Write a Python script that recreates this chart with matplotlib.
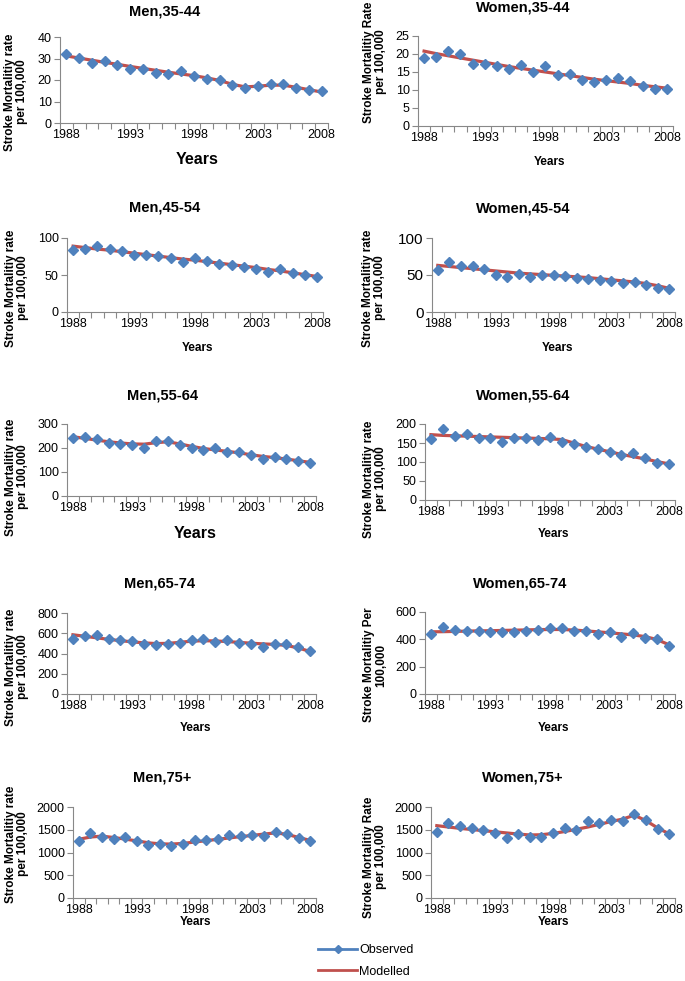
import matplotlib
matplotlib.use('Agg')
import matplotlib.pyplot as plt
from matplotlib.lines import Line2D

plt.rcParams['font.family'] = ['Liberation Sans', 'DejaVu Sans']

years = list(range(1988, 2009))
year_labels = [1988, 1993, 1998, 2003, 2008]

# observed / modelled rates per 100,000
men_35_44_obs = [32.2, 30.4, 27.9, 28.7, 27.0, 25.0, 25.1, 23.3, 22.6, 24.3, 21.7,
                 20.6, 20.2, 17.7, 16.4, 17.4, 18.3, 18.0, 16.4, 15.2, 14.7]
men_35_44_mod = [31.2, 30.2, 29.2, 28.2, 27.3, 26.3, 25.4, 24.5, 23.6, 22.8, 22.0,
                 21.0, 19.8, 18.0, 16.8, 17.1, 17.6, 17.6, 16.6, 15.5, 14.4]

women_35_44_obs = [19.0, 19.1, 20.9, 20.0, 17.2, 17.1, 16.7, 15.9, 16.9, 15.1, 16.7,
                   14.2, 14.4, 12.7, 12.3, 12.7, 13.3, 12.4, 11.1, 10.4, 10.3]
women_35_44_mod = [20.8, 20.1, 19.5, 18.9, 18.3, 17.7, 17.1, 16.5, 16.0, 15.5, 15.0,
                   14.5, 14.0, 13.5, 13.0, 12.6, 12.2, 11.8, 11.3, 10.9, 10.5]

men_45_54_obs = [83.8, 85.6, 89.2, 84.7, 82.4, 77.5, 76.6, 75.7, 73.4, 67.6, 73.0,
                 69.4, 65.3, 63.1, 61.3, 57.7, 53.6, 57.7, 52.7, 50.5, 47.3]
men_45_54_mod = [89.0, 87.0, 85.0, 83.5, 81.5, 79.5, 77.5, 75.5, 73.5, 71.5, 70.0,
                 68.0, 66.0, 64.0, 62.0, 60.0, 57.5, 55.5, 53.0, 50.5, 48.0]

women_45_54_obs = [56.3, 67.1, 61.7, 61.7, 58.1, 49.5, 47.7, 51.8, 46.8, 49.5, 49.5,
                   48.2, 46.4, 45.0, 43.2, 41.4, 39.2, 40.1, 36.9, 32.9, 31.5]
women_45_54_mod = [63.0, 61.5, 60.0, 58.5, 57.0, 55.5, 54.0, 52.5, 51.5, 50.5, 49.5,
                   48.5, 47.5, 46.5, 45.0, 43.5, 42.0, 40.5, 38.5, 35.5, 32.0]

men_55_64_obs = [241, 244, 236, 219, 216, 213, 202, 230, 229, 211, 202,
                 193, 200, 184, 183, 170, 156, 162, 155, 144, 138]
men_55_64_mod = [247, 240, 233, 226, 221, 217, 216, 222, 226, 217, 207,
                 198, 192, 186, 180, 172, 165, 160, 154, 147, 140]

women_55_64_obs = [160, 188, 168, 173, 163, 163, 152, 164, 163, 159, 165,
                   153, 147, 139, 134, 127, 119, 124, 111, 98, 95]
women_55_64_mod = [172, 170, 169, 168, 167, 166, 165, 164, 163, 162, 161,
                   159, 150, 141, 134, 127, 120, 114, 108, 101, 95]

men_65_74_obs = [539, 575, 584, 539, 532, 522, 490, 483, 496, 506, 535,
                 539, 516, 529, 506, 490, 467, 490, 490, 460, 421]
men_65_74_mod = [585, 570, 555, 540, 527, 515, 505, 498, 500, 510, 522,
                 526, 524, 518, 510, 502, 495, 490, 480, 455, 420]

women_65_74_obs = [439, 488, 466, 459, 461, 451, 451, 451, 461, 468, 485,
                   483, 459, 463, 441, 454, 417, 446, 410, 402, 354]
women_65_74_mod = [455, 456, 458, 460, 462, 463, 465, 467, 469, 471, 472,
                   472, 468, 462, 455, 448, 440, 432, 420, 398, 360]

men_75_obs = [1244, 1418, 1338, 1295, 1338, 1244, 1156, 1185, 1142, 1193, 1280,
              1280, 1302, 1389, 1360, 1375, 1353, 1447, 1411, 1316, 1258]
men_75_mod = [1290, 1340, 1360, 1330, 1295, 1255, 1215, 1190, 1185, 1200, 1230,
              1260, 1290, 1320, 1350, 1375, 1405, 1430, 1400, 1330, 1265]

women_75_obs = [1447, 1651, 1578, 1542, 1484, 1425, 1309, 1404, 1331, 1345, 1425,
                1542, 1505, 1687, 1651, 1724, 1687, 1840, 1724, 1520, 1396]
women_75_mod = [1590, 1560, 1530, 1505, 1480, 1455, 1430, 1405, 1385, 1390, 1420,
                1460, 1510, 1560, 1620, 1680, 1735, 1820, 1700, 1540, 1410]

W, H = 685, 981
blue = '#4F81BD'
red = '#C0504D'
grey = '#888888'

# title, ylabel, obs, mod, ymax, ystep, axes box in pixels (left, right, top, bottom),
# title pos, ylabel pos, xlabel pos, big "Years"?, ytick font size
panels = [
    ("Men,35-44", "Stroke Mortalitiy rate\nper 100,000", men_35_44_obs, men_35_44_mod, 40, 10,
     (60, 328, 37, 123), (165, 12), (16, 92), (197, 160), True, 9),
    ("Women,35-44", "Stroke Mortalitiy Rate\nper 100,000", women_35_44_obs, women_35_44_mod, 25, 5,
     (418, 673, 36, 126), (523, 8), (375, 62), (550, 162), False, 9),
    ("Men,45-54", "Stroke Mortalitiy rate\nper 100,000", men_45_54_obs, men_45_54_mod, 100, 50,
     (67, 323, 238, 312), (165, 208), (17, 288), (197, 348), False, 9),
    ("Women,45-54", "Stroke Mortalitiy rate\nper 100,000", women_45_54_obs, women_45_54_mod, 100, 50,
     (432, 675, 238, 312), (523, 209), (374, 288), (557, 348), False, 11),
    ("Men,55-64", "Stroke Mortalitiy rate\nper 100,000", men_55_64_obs, men_55_64_mod, 300, 100,
     (67, 316, 424, 496), (163, 395), (17, 477), (195, 533), True, 9),
    ("Women,55-64", "Stroke Mortalitiy rate\nper 100,000", women_55_64_obs, women_55_64_mod, 200, 50,
     (425, 675, 424, 500), (523, 395), (375, 479), (553, 534), False, 9),
    ("Men,65-74", "Stroke Mortalitiy rate\nper 100,000", men_65_74_obs, men_65_74_mod, 800, 200,
     (67, 316, 613, 694), (160, 583), (17, 667), (195, 728), False, 9),
    ("Women,65-74", "Stroke Mortalitiy Per\n100,000", women_65_74_obs, women_65_74_mod, 600, 200,
     (425, 675, 612, 694), (520, 584), (375, 665), (553, 728), False, 9),
    ("Men,75+", "Stroke Mortalitiy rate\nper 100,000", men_75_obs, men_75_mod, 2000, 500,
     (73, 316, 807, 898), (162, 778), (17, 844), (195, 922), False, 9),
    ("Women,75+", "Stroke Mortalitiy Rate\nper 100,000", women_75_obs, women_75_mod, 2000, 500,
     (431, 675, 807, 898), (523, 778), (375, 857), (553, 922), False, 9),
]

fig = plt.figure(figsize=(W / 100, H / 100), dpi=100)

for title, ylab, obs, mod, ymax, ystep, box, tpos, ypos, xpos, big, yfs in panels:
    l, r, t, b = box
    ax = fig.add_axes([l / W, 1 - b / H, (r - l) / W, (b - t) / H])
    ax.plot(years, mod, color=red, lw=2.3, zorder=2)
    ax.plot(years, obs, ls='none', marker='D', ms=5.3, color=blue, zorder=3)

    ax.set_xlim(1987.5, 2008.5)
    ax.set_ylim(0, ymax)
    ax.set_yticks(list(range(0, ymax + 1, ystep)))
    ax.set_xticks(year_labels)
    ax.set_xticks([y - 0.5 for y in years] + [2008.5], minor=True)
    ax.tick_params(axis='x', which='major', length=0, labelsize=9, pad=4)
    ax.tick_params(axis='x', which='minor', length=4, color=grey, width=0.8)
    ax.tick_params(axis='y', length=4, color=grey, width=0.8, labelsize=yfs, pad=2)
    for s in ['top', 'right']:
        ax.spines[s].set_visible(False)
    for s in ['left', 'bottom']:
        ax.spines[s].set_color(grey)
        ax.spines[s].set_linewidth(0.8)

    fig.text(tpos[0] / W, 1 - tpos[1] / H, title, ha='center', va='center',
             fontsize=10.5, fontweight='bold')
    fig.text(ypos[0] / W, 1 - ypos[1] / H, ylab, ha='center', va='center', rotation=90,
             fontsize=8.5, fontweight='bold', multialignment='center', linespacing=1.05)
    fig.text(xpos[0] / W, 1 - xpos[1] / H, "Years", ha='center', va='center',
             fontsize=11.5 if big else 8.5, fontweight='bold')

# legend
handles = [Line2D([], [], color=blue, lw=2, marker='D', ms=4.5),
           Line2D([], [], color=red, lw=2)]
fig.legend(handles, ['Observed', 'Modelled'], loc='upper left',
           bbox_to_anchor=(312 / W, 1 - 938 / H), frameon=False, fontsize=9,
           handlelength=3.1, handletextpad=0.15, labelspacing=0.75, borderpad=0)

fig.savefig('out.png', dpi=100)
